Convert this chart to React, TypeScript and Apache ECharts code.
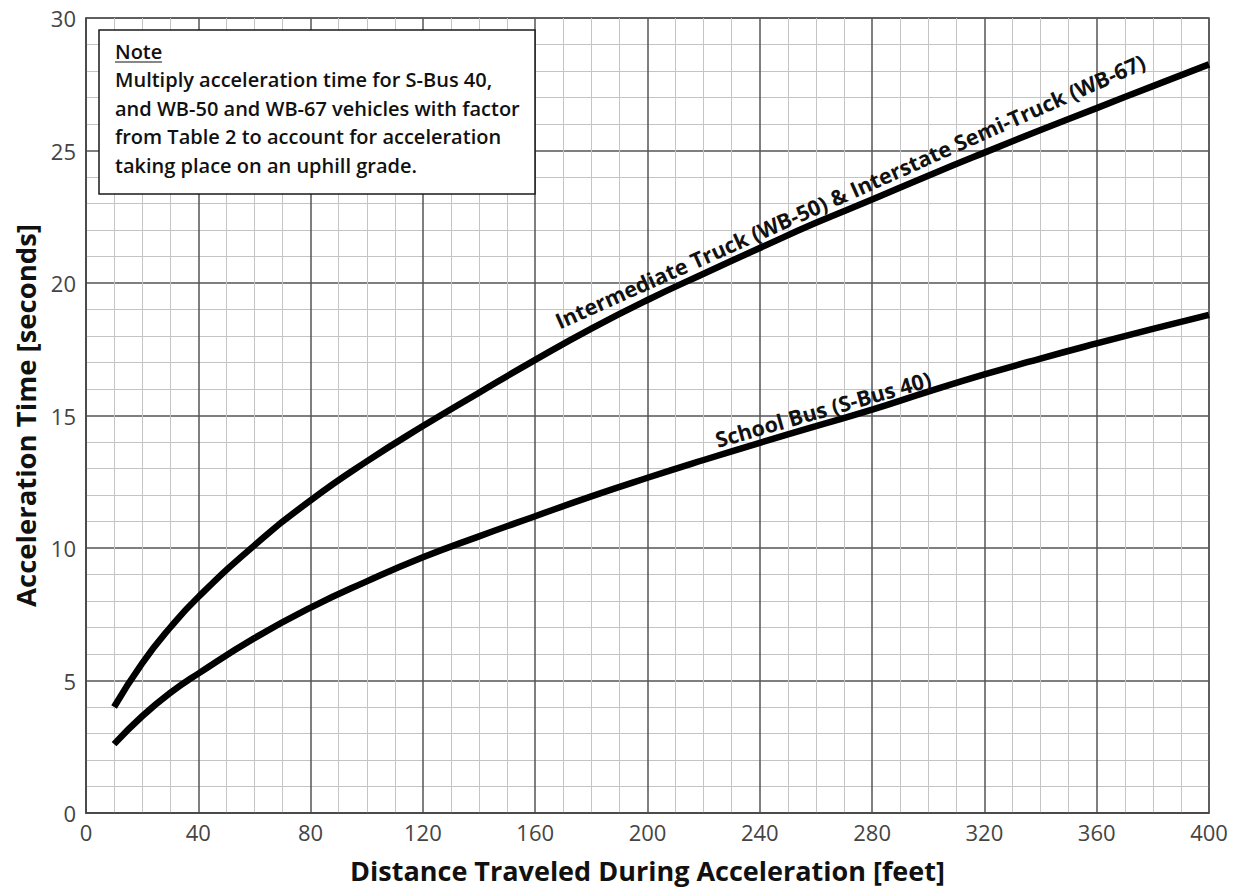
import React, { useEffect, useRef } from "react";
import * as echarts from "echarts";

const distances = [10, 20, 30, 40, 60, 80, 100, 120, 140, 160, 180, 200, 220, 240, 260, 280, 300, 320, 340, 360, 380, 400];
const truckTimes = [4.0, 5.65, 7.0, 8.15, 10.1, 11.8, 13.27, 14.6, 15.86, 17.1, 18.28, 19.36, 20.35, 21.32, 22.27, 23.15, 24.05, 24.92, 25.77, 26.6, 27.43, 28.25];
const busTimes = [2.6, 3.65, 4.53, 5.26, 6.6, 7.75, 8.74, 9.65, 10.44, 11.2, 11.95, 12.65, 13.32, 13.97, 14.6, 15.22, 15.9, 16.55, 17.15, 17.72, 18.27, 18.8];

const xTitle = "Distance Traveled During Acceleration [feet]";
const yTitle = "Acceleration Time [seconds]";
const truckLabel = "Intermediate Truck (WB-50) & Interstate Semi-Truck (WB-67)";
const busLabel = "School Bus (S-Bus 40)";
const noteTitle = "Note";
const noteLines = [
  "Multiply acceleration time for S-Bus 40,",
  "and WB-50 and WB-67 vehicles with factor",
  "from Table 2 to account for acceleration",
  "taking place on an uphill grade.",
];

const FONT = "'Open Sans', 'Noto Sans', sans-serif";

export default function App() {
  const ref = useRef<HTMLDivElement>(null);

  useEffect(() => {
    if (!ref.current) return;
    const chart = echarts.init(ref.current, undefined, { renderer: "svg" });
    const truckData = distances.map((d, i) => [d, truckTimes[i]]);
    const busData = distances.map((d, i) => [d, busTimes[i]]);

    const noteX = 115;
    const noteBottoms = [61, 89, 118, 146, 175];

    const graphics: any[] = [
      {
        type: "rect",
        z: 10,
        shape: { x: 99, y: 30, width: 436, height: 164 },
        style: { fill: "#fff", stroke: "#1a1a1a", lineWidth: 1.5 },
      },
      {
        type: "text",
        z: 11,
        x: noteX,
        y: noteBottoms[0],
        style: {
          text: noteTitle,
          fontFamily: FONT,
          fontSize: 20,
          fontWeight: 600,
          fill: "#111",
          align: "left",
          verticalAlign: "bottom",
        },
      },
      {
        type: "line",
        z: 11,
        shape: { x1: noteX, y1: noteBottoms[0] + 1, x2: noteX + 47, y2: noteBottoms[0] + 1 },
        style: { stroke: "#111", lineWidth: 1.2 },
      },
      ...noteLines.map((t, i) => ({
        type: "text",
        z: 11,
        x: noteX,
        y: noteBottoms[i + 1],
        style: {
          text: t,
          fontFamily: FONT,
          fontSize: 20,
          fontWeight: 600,
          fill: "#111",
          align: "left",
          verticalAlign: "bottom",
        },
      })),
      {
        type: "text",
        z: 11,
        x: 850,
        y: 191,
        rotation: (24 * Math.PI) / 180,
        style: {
          text: truckLabel,
          fontFamily: FONT,
          fontSize: 21.5,
          fontWeight: "bold",
          fill: "#111",
          align: "center",
          verticalAlign: "middle",
        },
      },
      {
        type: "text",
        z: 11,
        x: 823,
        y: 409,
        rotation: (16 * Math.PI) / 180,
        style: {
          text: busLabel,
          fontFamily: FONT,
          fontSize: 21.5,
          fontWeight: "bold",
          fill: "#111",
          align: "center",
          verticalAlign: "middle",
        },
      },
    ];

    chart.setOption({
      animation: false,
      backgroundColor: "#fff",
      grid: {
        left: 86,
        right: 27,
        top: 18,
        bottom: 81,
        show: true,
        borderColor: "#555",
        borderWidth: 1.5,
        containLabel: false,
      },
      xAxis: {
        type: "value",
        min: 0,
        max: 400,
        interval: 40,
        name: xTitle,
        nameLocation: "middle",
        nameGap: 44,
        nameTextStyle: { fontFamily: FONT, fontSize: 27, fontWeight: "bold", color: "#111" },
        axisLine: { show: true, lineStyle: { color: "#444", width: 1.5 } },
        axisTick: { show: false },
        axisLabel: { fontFamily: FONT, fontSize: 22, color: "#444", margin: 8 },
        splitLine: { show: true, lineStyle: { color: "#555", width: 1.5 } },
        minorTick: { show: false, splitNumber: 4 },
        minorSplitLine: { show: true, lineStyle: { color: "#c4c4c4", width: 1 } },
      },
      yAxis: {
        type: "value",
        min: 0,
        max: 30,
        interval: 5,
        name: yTitle,
        nameLocation: "middle",
        nameGap: 43,
        nameTextStyle: { fontFamily: FONT, fontSize: 27.5, fontWeight: "bold", color: "#111" },
        axisLine: { show: true, lineStyle: { color: "#444", width: 1.5 } },
        axisTick: { show: false },
        axisLabel: { fontFamily: FONT, fontSize: 22, color: "#444", margin: 10 },
        splitLine: { show: true, lineStyle: { color: "#555", width: 1.5 } },
        minorTick: { show: false, splitNumber: 5 },
        minorSplitLine: { show: true, lineStyle: { color: "#c4c4c4", width: 1 } },
      },
      series: [
        {
          type: "line",
          name: "Truck",
          data: truckData,
          smooth: 0.5,
          showSymbol: false,
          symbol: "none",
          lineStyle: { color: "#000", width: 6.5, cap: "butt" },
          z: 5,
        },
        {
          type: "line",
          name: "Bus",
          data: busData,
          smooth: 0.5,
          showSymbol: false,
          symbol: "none",
          lineStyle: { color: "#000", width: 6.5, cap: "butt" },
          z: 5,
        },
      ],
      graphic: graphics,
    });

    return () => {
      chart.dispose();
    };
  }, []);

  return (
    <div
      ref={ref}
      style={{ position: "absolute", left: 0, top: 0, width: 1236, height: 894 }}
    />
  );
}
